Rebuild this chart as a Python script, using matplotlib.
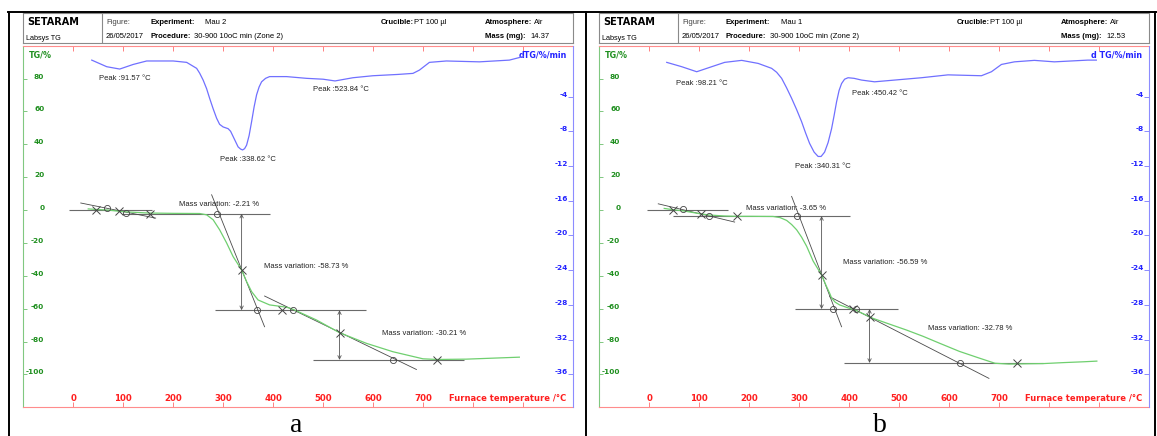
import numpy as np
import matplotlib
matplotlib.use('Agg')
import matplotlib.pyplot as plt
from matplotlib.lines import Line2D

# ---- panel a : Mau 2 ----
tg_temp_a = [30, 50, 70, 100, 150, 200, 253, 267, 280, 293, 307, 320, 337, 347, 357, 370,
             393, 427, 440, 487, 533, 587, 640, 700, 728, 787, 840, 893]
tg_a = [0.7, 0.3, 0.0, -1.0, -1.8, -2.0, -2.1, -2.9, -5.9, -12.0, -20.0, -28.3, -36.4, -43.5,
        -49.6, -54.7, -57.7, -59.1, -60.4, -66.9, -74.6, -81.1, -86.2, -90.5, -90.9, -90.7,
        -90.1, -89.5]
dtg_temp_a = [37, 67, 93, 120, 147, 200, 227, 247, 253, 260, 267, 273, 280, 287, 293, 300, 310,
              315, 320, 325, 330, 335, 339, 343, 347, 352, 357, 362, 367, 372, 377, 385, 393,
              427, 467, 500, 524, 560, 600, 650, 680, 693, 713, 747, 813, 873, 900]
dtg_a = [0.2, -0.56, -0.83, -0.3, 0.1, 0.1, -0.06, -0.75, -1.3, -2.1, -3.1, -4.2, -5.4, -6.5,
         -7.2, -7.5, -7.7, -8.0, -8.6, -9.2, -9.8, -10.05, -10.15, -10.0, -9.6, -8.5, -6.9,
         -5.2, -3.8, -2.9, -2.3, -1.9, -1.7, -1.7, -1.9, -2.0, -2.2, -1.83, -1.6, -1.45,
         -1.33, -0.95, -0.06, 0.1, 0.0, 0.2, 0.6]
peaks_a = [91.57, 338.62, 523.84]
mass_var_a = [-2.21, -58.73, -30.21]
levels_a = [0.0, -2.21, -60.94, -91.15]
level_from_a = [-8, 98, 283, 479]
level_to_a = [157, 394, 587, 783]
tan_t0_a = [15, 277, 383]
tan_y0_a = [4.3, 9.3, -52.3]
tan_t1_a = [165, 383, 687]
tan_y1_a = [-4.9, -71.0, -97.0]
cross_t_a = [46, 92, 153, 337, 417, 533, 728]
cross_y_a = [0.0, -0.8, -2.2, -36.4, -60.9, -74.6, -91.15]
circ_t_a = [68, 105, 287, 368, 440, 640]
circ_y_a = [1.2, -1.5, -2.21, -60.94, -60.94, -91.15]
arrow_t_a = [337, 533]

# ---- panel b : Mau 1 ----
tg_temp_b = [30, 48, 68, 103, 120, 150, 175, 200, 248, 262, 275, 285, 295, 305, 315, 328, 345,
             355, 361, 365, 372, 381, 398, 415, 448, 480, 515, 548, 581, 621, 660, 692, 720,
             760, 789, 830, 870, 896]
tg_b = [1.0, 0.2, -0.5, -2.3, -3.0, -3.6, -3.8, -3.8, -3.9, -4.6, -6.3, -8.8, -12.0, -16.5,
        -22.0, -31.0, -39.5, -46.6, -50.5, -53.5, -56.0, -57.7, -59.5, -61.2, -65.9, -69.3,
        -73.0, -76.8, -81.0, -86.0, -90.0, -93.2, -93.7, -93.5, -93.4, -92.8, -92.3, -91.9]
dtg_temp_b = [35, 65, 95, 125, 151, 185, 218, 245, 255, 265, 275, 285, 295, 305, 313, 321, 330,
              338, 344, 351, 358, 365, 370, 375, 380, 385, 391, 398, 410, 425, 451, 491, 545,
              598, 665, 685, 705, 731, 771, 811, 878, 895]
dtg_b = [-0.06, -0.56, -1.14, -0.56, -0.06, 0.17, -0.18, -0.75, -1.2, -1.9, -3.0, -4.2, -5.5,
         -6.9, -8.2, -9.4, -10.4, -10.9, -10.9, -10.4, -9.3, -7.7, -6.2, -4.6, -3.3, -2.5,
         -2.0, -1.83, -1.9, -2.1, -2.3, -2.1, -1.83, -1.5, -1.6, -1.14, -0.3, 0.0, 0.17, 0.0,
         0.2, 0.2]
peaks_b = [98.21, 340.31, 450.42]
mass_var_b = [-3.65, -56.59, -32.78]
levels_b = [0.0, -3.65, -60.24, -93.02]
level_from_b = [-5, 48, 291, 389]
level_to_b = [158, 401, 498, 789]
tan_t0_b = [18, 285, 361]
tan_y0_b = [3.8, 8.3, -52.7]
tan_t1_b = [171, 385, 680]
tan_y1_b = [-7.3, -71.0, -102.4]
cross_t_b = [48, 103, 175, 345, 408, 441, 736]
cross_y_b = [-0.2, -2.3, -3.65, -39.5, -60.24, -64.9, -93.02]
circ_t_b = [68, 120, 295, 368, 413, 623]
circ_y_b = [0.6, -3.5, -3.65, -60.24, -60.24, -93.02]
arrow_t_b = [345, 441]

temp_ticks = list(range(0, 1000, 100))
temp_labels = ['0', '100', '200', '300', '400', '500', '600', '700', '', '']
tg_ticks = list(range(-100, 100, 20))
dtg_ticks = list(range(-36, 0, 4))

W, H = 1157, 436
plt.rcParams['font.family'] = 'DejaVu Sans'
plt.rcParams['axes.unicode_minus'] = False
fig = plt.figure(figsize=(W / 100, H / 100), dpi=100)


def fx(px):
    return px / W


def fy(py):
    return 1 - py / H


RED, GREEN, BLUE = '#ff1f1f', '#1f8f1f', '#2424ff'
small = dict(family='Liberation Sans', fontsize=5.5, color='#222222')


def panel(left, exp, mass, dlabel, tg_t, tg, dt_t, dt, peaks, peak_pos, mvar, mvar_pos,
          levels, lv0, lv1, t0, y0, t1, y1, ct, cy, ot, oy, arr_t):
    # header box
    hx = fig.add_axes([fx(left), fy(42.7), 549.5 / W, 29.4 / H])
    hx.set_xlim(0, 549.5)
    hx.set_ylim(29.4, 0)
    hx.set_xticks([])
    hx.set_yticks([])
    for s in hx.spines.values():
        s.set_color('#8a8a8a')
        s.set_linewidth(0.8)
    hx.axvline(78.7, color='#8a8a8a', lw=0.8)
    hx.text(3.7, 9, 'SETARAM', fontsize=7, fontweight='bold', va='center')
    hx.text(2.7, 25.5, 'Labsys TG', family='Liberation Sans', fontsize=5.2, va='center')
    hs = dict(family='Liberation Sans', fontsize=5.5, va='center')
    hb = dict(hs, fontweight='bold')
    hx.text(82.7, 9, 'Figure:', color='#444444', **hs)
    hx.text(126.7, 9, 'Experiment:', **hb)
    hx.text(181.5, 9, exp, **hs)
    hx.text(357.7, 9, 'Crucible:', **hb)
    hx.text(390.8, 9, 'PT 100 µl', **hs)
    hx.text(461.9, 9, 'Atmosphere:', **hb)
    hx.text(510.5, 9, 'Air', **hs)
    hx.text(82.7, 22.7, '26/05/2017', **hs)
    hx.text(126.7, 22.7, 'Procedure:', **hb)
    hx.text(171.1, 22.7, '30-900 10oC min (Zone 2)', **hs)
    hx.text(461.9, 22.7, 'Mass (mg):', **hb)
    hx.text(507, 22.7, mass, **hs)

    ax = fig.add_axes([fx(left), fy(407.3), 549.5 / W, (407.3 - 45.7) / H])
    ax.set_xlim(-100, 1000)
    ax.set_ylim(-120, 100)
    ax2 = ax.twinx()
    ax2.set_ylim(-39.8, 1.86)

    ax.spines['left'].set_color('#80c880')
    ax.spines['top'].set_color('#ff8c8c')
    ax.spines['bottom'].set_color('#ff8c8c')
    ax.spines['right'].set_visible(False)
    for s in ['left', 'top', 'bottom']:
        ax2.spines[s].set_visible(False)
    ax2.spines['right'].set_color('#8c8cff')
    for s in ax.spines.values():
        s.set_linewidth(0.8)
    ax2.spines['right'].set_linewidth(0.8)

    ax.set_xticks(temp_ticks)
    ax.set_xticklabels(temp_labels)
    ax.tick_params(axis='x', direction='in', length=3.6, width=0.7, color='#ff8080',
                   top=True, bottom=True, labeltop=False, pad=-4.8, labelcolor=RED,
                   labelsize=6.2)
    ax.set_yticks(tg_ticks)
    ax.tick_params(axis='y', direction='in', length=2.9, width=0.7, color='#80c880',
                   pad=-15.1, labelcolor=GREEN, labelsize=5.3)
    ax2.set_yticks(dtg_ticks)
    ax2.tick_params(axis='y', direction='in', length=3.6, width=0.7, color='#8c8cff',
                    pad=-3.6, labelcolor=BLUE, labelsize=5.3)
    for lb in ax.get_xticklabels():
        lb.set_va('baseline')
        lb.set_fontweight('bold')
    for lb in ax.get_yticklabels():
        lb.set_va('baseline')
        lb.set_fontweight('bold')
    for lb in ax2.get_yticklabels():
        lb.set_va('baseline')
        lb.set_ha('right')
        lb.set_fontweight('bold')

    ax.text(0.9885, 0.018, 'Furnace temperature /°C', transform=ax.transAxes, ha='right',
            va='baseline', color=RED, fontsize=6, fontweight='bold')
    ax.text(0.0104, 0.974, 'TG/%', transform=ax.transAxes, ha='left', va='center',
            color=GREEN, fontsize=5.8, fontweight='bold')
    ax.text(0.9886, 0.974, dlabel, transform=ax.transAxes, ha='right', va='center',
            color=BLUE, fontsize=5.8, fontweight='bold')

    # mass-variation construction
    ax.hlines(levels, lv0, lv1, color='#6a6a6a', lw=0.8, zorder=2)
    for a, b, c, d in zip(t0, y0, t1, y1):
        ax.plot([a, c], [b, d], color='#4a4a4a', lw=0.6, zorder=2)
    for i, t in enumerate(arr_t):
        ax.annotate('', xy=(t, levels[i + 2]), xytext=(t, levels[i + 1]),
                    arrowprops=dict(arrowstyle='<->', color='#555555', lw=0.6,
                                    shrinkA=0, shrinkB=0, mutation_scale=6))
    ax.plot(ct, cy, 'x', ms=5.5, mew=0.7, color='#444444', zorder=4)
    ax.plot(ot, oy, 'o', ms=4.4, mew=0.6, mfc='none', color='#444444', zorder=4)
    ax.plot(tg_t, tg, color='#6fcf6f', lw=0.9, zorder=3)
    for v, (px, py) in zip(mvar, mvar_pos):
        ax.text(px, py, 'Mass variation: %.2f %%' % v, ha='left', va='center', **small)

    ax2.plot(dt_t, dt, color='#7070ff', lw=0.9)
    for p, (px, py) in zip(peaks, peak_pos):
        ax2.text(px, py, 'Peak :%.2f °C' % p, ha='center', va='center', **small)


panel(23.3, 'Mau 2', '14.37', 'dTG/%/min', tg_temp_a, tg_a, dtg_temp_a, dtg_a,
      peaks_a, [(103, -1.87), (349, -11.2), (535, -3.14)],
      mass_var_a, [(211, 3.2), (381, -34.3), (619, -75.4)],
      levels_a, level_from_a, level_to_a, tan_t0_a, tan_y0_a, tan_t1_a, tan_y1_a,
      cross_t_a, cross_y_a, circ_t_a, circ_y_a, arrow_t_a)
panel(599.3, 'Mau 1', '12.53', 'd TG/%/min', tg_temp_b, tg_b, dtg_temp_b, dtg_b,
      peaks_b, [(105, -2.45), (347, -12.1), (461, -3.6)],
      mass_var_b, [(193, 0.8), (387, -31.6), (557, -72.0)],
      levels_b, level_from_b, level_to_b, tan_t0_b, tan_y0_b, tan_t1_b, tan_y1_b,
      cross_t_b, cross_y_b, circ_t_b, circ_y_b, arrow_t_b)

# outer table lines and captions
fig.add_artist(Line2D([fx(8), fx(1156)], [fy(12), fy(12)], color='black', lw=1.4))
for xl in [8.5, 585.5, 1155.3]:
    fig.add_artist(Line2D([fx(xl), fx(xl)], [fy(12), fy(436)], color='black', lw=1.4))
fig.text(fx(296), fy(432), 'a', ha='center', va='baseline', fontsize=20,
         family='Liberation Serif')
fig.text(fx(880), fy(432), 'b', ha='center', va='baseline', fontsize=20,
         family='Liberation Serif')

fig.savefig('out.png', dpi=100)
